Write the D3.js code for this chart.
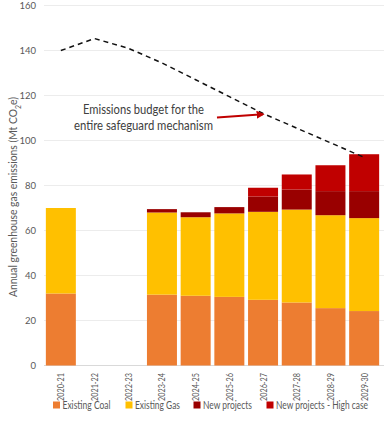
<!DOCTYPE html>
<html>
<head>
<meta charset="utf-8">
<script src="https://cdn.jsdelivr.net/npm/d3@7/dist/d3.min.js"></script>
<style>
  body { margin: 0; background: #fff; }
  text { font-family: "Source Sans Pro", Lato, "Open Sans", sans-serif; fill: #595959; }
</style>
</head>
<body>
<svg id="chart" width="389" height="426"></svg>
<script>
var years = ['2020-21', '2021-22', '2022-23', '2023-24', '2024-25', '2025-26', '2026-27', '2027-28', '2028-29', '2029-30'];
var existingCoal = [32, 0, 0, 31.5, 31, 30.5, 29.2, 28, 25.5, 24.2];
var existingGas = [38, 0, 0, 36.5, 34.9, 37.1, 39.1, 41.3, 41.3, 41.3];
var newProjects = [0, 0, 0, 1.5, 2.2, 2.8, 6.8, 8.9, 10.7, 12];
var newProjectsHigh = [0, 0, 0, 0, 0, 0, 3.9, 6.7, 11.5, 16.4];
var budget = [140, 145.3, 141, 134.5, 127, 119.5, 112, 105.5, 99, 92.5];
var yTicks = [0, 20, 40, 60, 80, 100, 120, 140, 160];

var seriesNames = ['Existing Coal', 'Existing Gas', 'New projects', 'New projects - High case'];
var colors = ['#ED7D31', '#FFC000', '#990000', '#C00000'];

var svg = d3.select('#chart');

var x = d3.scaleBand().domain(years).range([44, 381]).paddingInner(0.11).paddingOuter(0.055);
var y = d3.scaleLinear().domain([0, 160]).range([365.5, 5.5]);

// squeeze a text to the width it has in the reference
function fit(sel, w) {
  sel.attr('textLength', w).attr('lengthAdjust', 'spacingAndGlyphs');
}

// gridlines
svg.append('g').selectAll('line')
  .data(yTicks)
  .join('line')
  .attr('x1', 44).attr('x2', 384)
  .attr('y1', function(d) { return y(d); })
  .attr('y2', function(d) { return y(d); })
  .attr('stroke', function(d) { return d === 0 ? '#d9d9d9' : '#ececec'; })
  .attr('stroke-width', 1);

// y tick labels
svg.append('g').selectAll('text')
  .data(yTicks)
  .join('text')
  .attr('x', 36)
  .attr('y', function(d) { return y(d); })
  .attr('dy', '0.35em')
  .attr('text-anchor', 'end')
  .attr('font-size', 9.5)
  .text(function(d) { return d; });

// y axis title
var yTitle = svg.append('text')
  .attr('transform', 'translate(17,197) rotate(-90)')
  .attr('text-anchor', 'middle')
  .attr('font-size', 10.5)
  .html('Annual greenhouse gas emissions (Mt CO<tspan baseline-shift="sub" font-size="7">2</tspan>e)');
fit(yTitle, 200);

// stacked bars
var table = years.map(function(yr, i) {
  return { year: yr, coal: existingCoal[i], gas: existingGas[i], newp: newProjects[i], high: newProjectsHigh[i] };
});
var stack = d3.stack().keys(['coal', 'gas', 'newp', 'high'])(table);

svg.append('g').selectAll('g')
  .data(stack)
  .join('g')
  .attr('fill', function(d, i) { return colors[i]; })
  .selectAll('rect')
  .data(function(d) { return d.filter(function(p) { return p[1] - p[0] > 0; }); })
  .join('rect')
  .attr('x', function(d) { return x(d.data.year); })
  .attr('width', x.bandwidth())
  .attr('y', function(d) { return y(d[1]); })
  .attr('height', function(d) { return y(d[0]) - y(d[1]); });

// x labels
svg.append('g').selectAll('text')
  .data(years)
  .join('text')
  .attr('transform', function(d) {
    return 'translate(' + (x(d) + x.bandwidth() / 2 + 3.5) + ',373) rotate(-90)';
  })
  .attr('text-anchor', 'end')
  .attr('font-size', 10)
  .attr('textLength', 28)
  .attr('lengthAdjust', 'spacingAndGlyphs')
  .text(function(d) { return d; });

// budget line
var line = d3.line()
  .x(function(d, i) { return x(years[i]) + x.bandwidth() / 2; })
  .y(function(d) { return y(d); });

svg.append('path')
  .datum(budget)
  .attr('d', line)
  .attr('fill', 'none')
  .attr('stroke', '#111')
  .attr('stroke-width', 1.5)
  .attr('stroke-dasharray', '5,4');

// annotation
var defs = svg.append('defs');
defs.append('marker')
  .attr('id', 'arrow')
  .attr('viewBox', '0 0 10 10')
  .attr('refX', 8).attr('refY', 5)
  .attr('markerWidth', 4).attr('markerHeight', 4)
  .attr('orient', 'auto')
  .append('path')
  .attr('d', 'M0,0 L10,5 L0,10 z')
  .attr('fill', '#C00000');

svg.append('line')
  .attr('x1', 217).attr('y1', 117.5)
  .attr('x2', 263).attr('y2', 114.3)
  .attr('stroke', '#C00000')
  .attr('stroke-width', 2)
  .attr('marker-end', 'url(#arrow)');

var note = svg.append('text')
  .attr('text-anchor', 'middle')
  .attr('font-size', 12.5)
  .style('fill', '#404040');
note.append('tspan').attr('x', 143.5).attr('y', 114).call(fit, 121).text('Emissions budget for the');
note.append('tspan').attr('x', 143.5).attr('y', 129.5).call(fit, 139).text('entire safeguard mechanism');

// legend
var legendX = [53, 125.5, 193.5, 266.5];
var legendW = [48, 45, 49, 92];
var legend = svg.append('g').selectAll('g')
  .data(seriesNames)
  .join('g')
  .attr('transform', function(d, i) { return 'translate(' + legendX[i] + ',405)'; });
legend.append('rect')
  .attr('x', 0).attr('y', -3.5)
  .attr('width', 7).attr('height', 7)
  .attr('fill', function(d, i) { return colors[i]; });
legend.append('text')
  .attr('x', 9.5).attr('y', 0)
  .attr('dy', '0.35em')
  .attr('font-size', 11)
  .attr('textLength', function(d, i) { return legendW[i]; })
  .attr('lengthAdjust', 'spacingAndGlyphs')
  .text(function(d) { return d; });
</script>
</body>
</html>
